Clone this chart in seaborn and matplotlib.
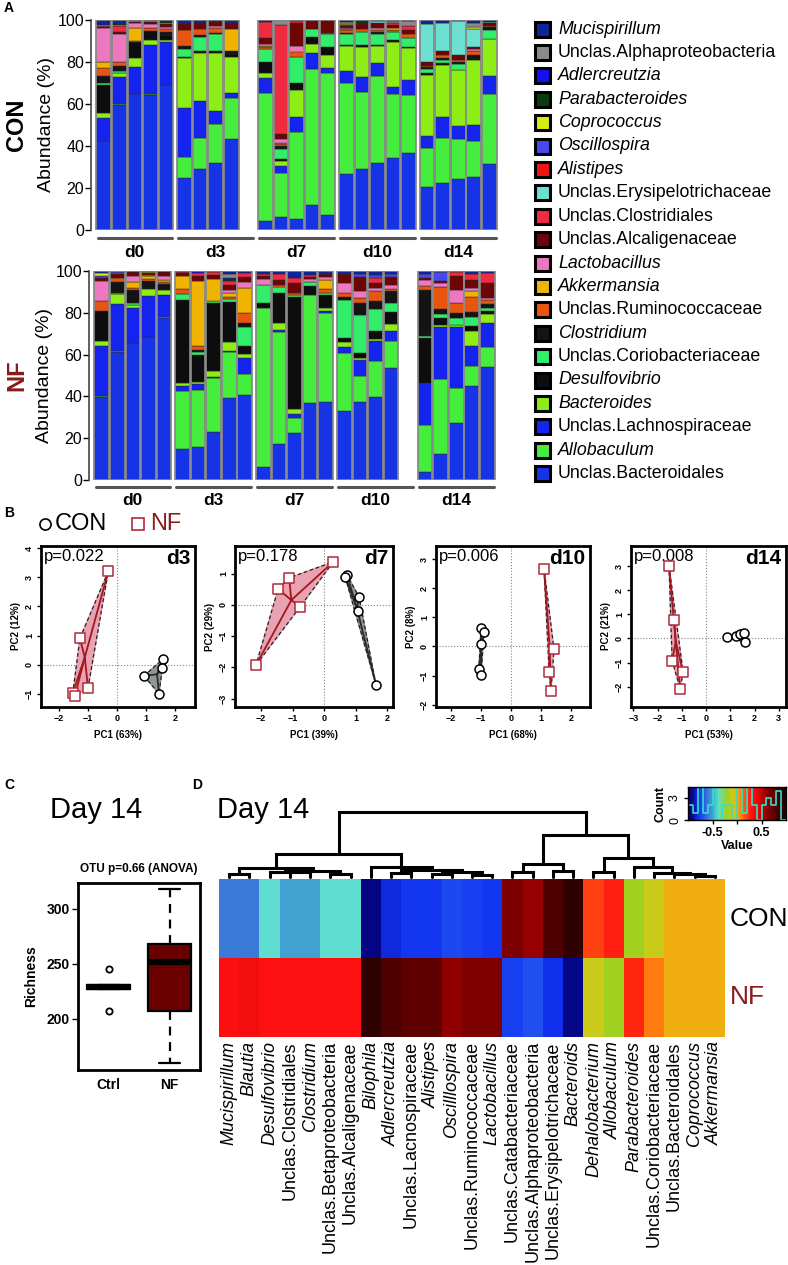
import numpy as np
import pandas as pd
import matplotlib
matplotlib.use('Agg')
import matplotlib.pyplot as plt
import seaborn as sns
from matplotlib.colors import LinearSegmentedColormap
from matplotlib.patches import Rectangle

W, H = 788, 1265

# ---------------- Panel A data (stack order: bottom first) ----------------
TAXA = ['Unclas.Bacteroidales', 'Allobaculum', 'Unclas.Lachnospiraceae', 'Bacteroides',
        'Desulfovibrio', 'Unclas.Coriobacteriaceae', 'Clostridium', 'Unclas.Ruminococcaceae',
        'Akkermansia', 'Lactobacillus', 'Unclas.Alcaligenaceae', 'Unclas.Clostridiales',
        'Unclas.Erysipelotrichaceae', 'Alistipes', 'Oscillospira', 'Coprococcus',
        'Parabacteroides', 'Adlercreutzia', 'Unclas.Alphaproteobacteria', 'Mucispirillum']
COLORS = ['#1733e6', '#45ee3c', '#1424ee', '#8cee14', '#0d0d0d', '#30ee6a', '#141414',
          '#e85510', '#f0b400', '#ee78c0', '#6e0505', '#f02a40', '#6ce0d0', '#f01414',
          '#4848ec', '#d4ee10', '#0b3a12', '#1010f0', '#8a8a8a', '#10249a']
DAYS = ['d0', 'd3', 'd7', 'd10', 'd14']

CON_D0 = [[42.5, 0, 10.6, 2.4, 13.5, 0.8, 3.5, 3.7, 3.2, 15.9, 0.5, 0.5, 0, 0, 0, 0.5, 0, 0.5, 0, 1.9],
          [59.5, 0.5, 13, 1.6, 0, 1.3, 2.4, 1.6, 0, 13.5, 0.8, 2.9, 0, 0, 0, 0.5, 0.5, 0, 0, 1.9],
          [64.6, 0, 13.2, 4, 7.9, 0, 0, 0.5, 6.2, 2, 0.8, 0, 0, 0, 0, 0.5, 0, 0, 0, 0.3],
          [64.3, 0.5, 23.5, 2.4, 4, 0, 0, 1.3, 0, 2, 1.1, 0, 0, 0, 0, 0.5, 0, 0, 0, 0.4],
          [69, 0, 20.6, 1.1, 2, 0, 1.6, 1.6, 0, 1, 1, 0, 0, 0, 0, 0.5, 1.6, 0, 0, 0]]
CON_D3 = [[24.6, 10.3, 23, 23.8, 0.8, 3.5, 1.6, 7.6, 0, 0, 2.9, 0, 0, 0, 0, 0, 0, 0, 0, 1.9],
          [28.9, 15.1, 17.6, 22.5, 1.1, 6.5, 1.1, 2.7, 0, 0, 3.2, 0, 0, 0, 0, 0, 0, 0, 0, 1.3],
          [31.7, 18.6, 6.5, 27.6, 1, 7.8, 0.5, 2.7, 0, 0.8, 2, 0, 0, 0, 0, 0, 0, 0, 0, 0.8],
          [43.2, 19.5, 2.4, 17.5, 1.3, 0, 1.4, 0, 10.3, 0, 3.2, 0, 0, 0, 0, 0, 0, 0, 0, 1.2]]
CON_D7 = [[4.4, 61, 7.1, 2.4, 5.2, 6.3, 0, 0.8, 0.6, 0.6, 3.2, 7.3, 0, 0, 0, 0, 0, 0, 0, 1.1],
          [6, 21, 3.6, 2.4, 1, 4.8, 1, 1.2, 0.6, 1.6, 2.4, 52, 0, 0, 0, 0, 0, 0, 2.4, 0],
          [5.1, 41.4, 7.5, 12.7, 3.5, 12.4, 0, 2.4, 0, 2.4, 11.1, 1, 0, 0, 0, 0, 0, 0, 0, 0.5],
          [11.9, 64.6, 7.9, 4.4, 3.2, 3.5, 0, 0, 0, 0, 4.1, 0, 0, 0, 0, 0, 0, 0, 0, 0.4],
          [7.1, 67.5, 2.4, 6.3, 4, 6, 0, 0.5, 0, 0, 6, 0, 0, 0, 0, 0, 0, 0, 0, 0.2]]
CON_D10 = [[26.7, 43.2, 5.9, 11.6, 0.8, 5.1, 0.5, 1.6, 0.3, 0.3, 1.3, 0, 0, 0, 0.5, 0.5, 0, 0, 0.8, 0.9],
           [29, 36.5, 7.5, 14.3, 1, 6, 0, 1.6, 0, 0, 2.4, 0, 0, 0, 0, 0, 1, 0, 0, 0.7],
           [31.7, 41.6, 6.3, 7.9, 0.8, 4.8, 1, 1.1, 0, 1, 2.5, 0, 0.8, 0, 0, 0, 0, 0, 0, 0.5],
           [34.1, 30.6, 3.5, 21.4, 0.8, 4, 0, 1, 0.8, 0, 1.6, 0.6, 0, 0, 0, 0, 0, 0, 1, 0.6],
           [36.5, 27.8, 7.1, 15.1, 0.8, 4.3, 0, 1.6, 0, 0, 1.9, 2.1, 0, 0, 0, 0, 0, 0, 2.1, 0.7]]
CON_D14 = [[20.3, 18.9, 5.6, 29, 0.8, 1.9, 1, 0.8, 0, 0, 1.6, 0, 18.3, 0, 0, 0, 0, 0, 0, 1.8],
           [22.5, 21.1, 10.3, 24.6, 0.8, 1.6, 1, 1.6, 0, 0, 1.6, 0, 13.5, 0, 0, 0, 0, 0, 0, 1.4],
           [24.1, 19, 6.3, 27, 0, 2.5, 1, 1, 0, 0, 2.4, 0, 16.2, 0, 0, 0, 0, 0, 0, 0.5],
           [25.1, 17.5, 7.5, 31, 0.8, 0, 1.6, 1.9, 0, 0.8, 1, 0, 8.7, 0, 0, 1, 0, 0, 1.6, 1.5],
           [31.4, 33.2, 8.7, 17.5, 0, 4.4, 1.3, 0.8, 0, 0, 1.1, 0, 0.5, 0, 0, 0, 0, 0, 0, 1.1]]

NF_D0 = [[39.6, 0.6, 23.9, 2.4, 14.4, 0, 0, 4.8, 0, 9.3, 1.6, 0, 0, 0, 1, 1.6, 0, 0, 0, 0.8],
         [61.4, 0.5, 22.3, 4.8, 0, 0.5, 5.1, 2.1, 0, 0, 1.9, 0, 0, 0, 1, 0.4, 0, 0, 0, 0],
         [65.4, 0, 17.1, 1.3, 0, 0.8, 6.4, 0.8, 2.7, 2.9, 2.1, 0, 0, 0, 0, 0, 0, 0, 0, 0.5],
         [68.6, 0, 19.5, 3.2, 0, 0, 4.1, 1, 1, 0.5, 1, 0, 0, 0, 0, 0.5, 0, 0, 0, 0.6],
         [77.4, 0.5, 10.7, 2.4, 0, 0, 2.7, 1, 1, 2.1, 1.6, 0, 0, 0, 0, 0, 0, 0, 0, 0.6]]
NF_D3 = [[14.8, 27.9, 2.4, 1.1, 39.9, 2.7, 0, 2.4, 6.4, 0, 1.3, 0.8, 0, 0, 0, 0, 0, 0, 0, 0.3],
         [15.6, 27.4, 2.9, 1.1, 12.8, 1.6, 1, 1.6, 31.1, 0, 2.4, 1.6, 0, 0, 0, 0, 0, 0.8, 0, 0.1],
         [23.1, 25.5, 0.8, 2.9, 32.2, 1.1, 0, 0, 10.8, 0, 1.9, 1, 0, 0, 0, 0, 0, 0, 0, 0.7],
         [39.1, 22, 0.8, 4.3, 19.1, 1.1, 0, 1.3, 1.9, 1.1, 2.4, 1.9, 0, 0, 0, 0, 1, 0.8, 1.6, 1.6],
         [40.7, 9.9, 7.7, 2.1, 3.8, 8.9, 1.9, 5.1, 11.6, 3.2, 2.4, 1.6, 0, 0, 0, 0, 0, 0, 0, 1.1]]
NF_D7 = [[6.4, 75.8, 0, 0, 2.4, 8.8, 0, 0, 0, 2.7, 1.6, 0.8, 0, 0, 0, 0, 0, 0, 0, 1.5],
         [17.2, 53.7, 0.8, 3.2, 14.4, 3.2, 0, 0.8, 0, 0, 2.4, 2.7, 0, 0, 0, 0, 0, 0, 0, 1.6],
         [22.6, 6.9, 2.1, 2.2, 53.6, 1.1, 0, 1, 0, 0, 4.8, 2.4, 0, 0, 0, 0, 0, 0, 0, 3.3],
         [37, 51.5, 0, 0, 4.3, 2.1, 0, 0, 0, 1.3, 1, 0.8, 0, 0, 0, 0, 0, 0, 0, 2],
         [37.5, 42.3, 1.3, 1.1, 6.4, 1, 0, 1.6, 4.3, 1.6, 1.6, 0, 0, 0, 0, 0, 0, 0, 0, 1.3]]
NF_D10 = [[33.2, 27.4, 3.2, 2.1, 1.9, 18.3, 1.6, 1.9, 0, 4.8, 4, 0, 0, 0, 0.3, 0, 0, 0, 0, 1.3],
          [37.5, 12.3, 7.7, 0.8, 2.7, 18, 5.6, 2.4, 0, 3.2, 6.9, 0, 0, 0, 1.3, 0, 0, 0, 0, 1.6],
          [39.6, 17.1, 10, 1, 3.7, 10.5, 3.8, 4.5, 0, 1.6, 2.4, 2.4, 0, 0, 1.3, 0, 0, 0, 0, 2.1],
          [53.7, 12.9, 4.8, 3.2, 5.9, 4, 5.9, 1.2, 0, 1.6, 4, 0, 0, 0, 1.4, 0, 0, 0, 0, 1.4]]
NF_D14 = [[3.7, 22.6, 20.3, 0, 21.2, 1.3, 21.9, 1.6, 0, 3.2, 1, 0, 0, 0, 1.6, 0, 0, 0, 0, 1.6],
          [12.3, 35.9, 24.9, 1.1, 3.5, 1.8, 2.2, 10.8, 0, 1.6, 1, 0, 0, 0, 4.3, 0, 0, 0, 0, 0.6],
          [27.4, 16.4, 29.2, 1.1, 0, 3.5, 2.4, 4.8, 0, 6.1, 6.6, 1.9, 0, 0, 0, 0, 0, 0, 0, 0.6],
          [45, 9.6, 9.6, 7.3, 2.4, 4, 2.7, 6.9, 2.7, 1.5, 4, 2.7, 0, 0, 0, 0, 0, 0, 0, 1.6],
          [53.9, 9.6, 11.8, 4.1, 1.4, 1.6, 1.9, 1.9, 0, 0.8, 7.2, 4.8, 0, 0, 0, 0, 0, 0, 0, 1]]

# ---------------- Panel B data (PCoA scores) ----------------
PC_TITLES = ['d3', 'd7', 'd10', 'd14']
PC_PVALS = ['p=0.022', 'p=0.178', 'p=0.006', 'p=0.008']
PC1_LABELS = ['PC1 (63%)', 'PC1 (39%)', 'PC1 (68%)', 'PC1 (53%)']
PC2_LABELS = ['PC2 (12%)', 'PC2 (29%)', 'PC2 (8%)', 'PC2 (21%)']
CON_PC1 = [[1.6, 1.55, 0.93, 1.45], [0.73, 0.67, 1.11, 1.08, 1.65],
           [-1.0, -0.9, -1.0, -1.07, -1.0], [0.85, 1.25, 1.4, 1.58, 1.6]]
CON_PC2 = [[0.2, -0.13, -0.38, -1.0], [0.96, 0.9, 0.26, -0.19, -2.56],
           [0.65, 0.48, 0.1, -0.78, -0.98], [0.07, 0.1, 0.2, 0.22, -0.15]]
NF_PC1 = [[-0.3, -1.28, -1.0, -1.52, -1.45], [0.29, -1.11, -1.46, -0.76, -2.16],
          [1.1, 1.43, 1.27, 1.33], [-1.53, -1.32, -1.4, -1.07, -0.95]]
NF_PC2 = [[3.2, 0.9, -0.8, -0.96, -1.07], [1.38, 0.87, 0.51, -0.06, -1.92],
          [2.66, -0.1, -0.88, -1.53], [3.0, 0.78, -0.92, -2.08, -1.4]]
PC_XLIM = [(-2.62, 2.69), (-2.83, 2.19), (-2.5, 2.63), (-3.1, 3.3)]
PC_YLIM = [(-1.45, 4.07), (-3.27, 1.89), (-2.08, 3.45), (-2.84, 3.83)]
PC_XTICKS = [range(-2, 3), range(-2, 3), range(-2, 3), range(-3, 4)]
PC_YTICKS = [range(-1, 5), range(-3, 2), range(-2, 4), range(-2, 4)]

# ---------------- Panel C data ----------------
CTRL_RICHNESS = [207, 227, 229, 231, 245]
NF_RICHNESS = [160, 207, 252, 268, 318]

# ---------------- Panel D data ----------------
HM_TAXA = ['Mucispirillum', 'Blautia', 'Desulfovibrio', 'Unclas.Clostridiales', 'Clostridium',
           'Unclas.Betaproteobacteria', 'Unclas.Alcaligenaceae', 'Bilophila', 'Adlercreutzia',
           'Unclas.Lacnospiraceae', 'Alistipes', 'Oscilllospira', 'Unclas.Ruminococcaceae',
           'Lactobacillus', 'Unclas.Catabacteriaceae', 'Unclas.Alphaproteobacteria',
           'Unclas.Erysipelotrichaceae', 'Bacteroids', 'Dehalobacterium', 'Allobaculum',
           'Parabacteroides', 'Unclas.Coriobacteriaceae', 'Unclas.Bacteroidales',
           'Coprococcus', 'Akkermansia']
HM_CON = [-0.6, -0.6, -0.4, -0.5, -0.5, -0.4, -0.4, -0.95, -0.82, -0.78, -0.78, -0.72, -0.75,
          -0.78, 0.65, 0.58, 0.8, 0.9, 0.2, 0.27, -0.2, -0.1, 0.0, 0.0, 0.0]
HM_NF = [0.32, 0.35, 0.3, 0.3, 0.3, 0.3, 0.3, 0.9, 0.8, 0.75, 0.75, 0.6, 0.65, 0.65, -0.75,
         -0.7, -0.8, -0.93, -0.1, -0.2, 0.25, 0.1, 0.0, 0.0, 0.0]
# dendrogram: (merge height, left, right), leaves are column indices
TREE = (1.0,
        (0.35,
         (0.14, (0.04, 0, 1), (0.09, (0.08, 2, (0.07, 3, 4)), (0.05, 5, 6))),
         (0.16, 7, (0.11, (0.06, 8, 9), (0.08, (0.05, 10, 11), (0.03, 12, 13))))),
        (0.65,
         (0.2, (0.08, 14, 15), (0.1, 16, 17)),
         (0.3, (0.08, 18, 19), (0.15, 20, (0.06, 21, (0.04, 22, (0.02, 23, 24)))))))

# ---------------- setup ----------------
sns.set_theme(style='white')
plt.rcParams['font.family'] = ['Liberation Sans', 'DejaVu Sans']
plt.rcParams['axes.edgecolor'] = 'black'
plt.rcParams['xtick.color'] = 'black'
plt.rcParams['ytick.color'] = 'black'
plt.rcParams['text.color'] = 'black'
plt.rcParams['axes.labelcolor'] = 'black'

fig = plt.figure(figsize=(W / 100, H / 100), dpi=100)
DARKRED = '#8b1a1a'


def px_axes(x0, y0, x1, y1, **kw):
    return fig.add_axes([x0 / W, 1 - y1 / H, (x1 - x0) / W, (y1 - y0) / H], **kw)


def is_genus(name):
    return not name.startswith('Unclas.')


# ---------------- Panel A ----------------
PITCH = 5.2


def draw_stacks(ax, groups, line_y, text_y):
    xs, rows = [], []
    for g, bars in enumerate(groups):
        for i, vals in enumerate(bars):
            xs.append(g * PITCH + i + 0.5)
            rows.append(vals)
    xs = np.array(xs)
    vals = np.array(rows, dtype=float)
    bottom = np.zeros(len(xs))
    for k in range(len(TAXA)):
        m = vals[:, k] > 0
        ax.bar(xs[m], vals[m, k], bottom=bottom[m], width=0.94, color=COLORS[k],
               edgecolor='#2a2a2a', linewidth=0.35)
        bottom += vals[:, k]
    ax.bar(xs, bottom, width=0.94, fill=False, edgecolor='#8c8c8c', linewidth=1.2)
    ax.set_ylim(0, 100)
    ax.set_xlim(-0.32, 4 * PITCH + 5.06)
    for s in ['top', 'right', 'bottom']:
        ax.spines[s].set_visible(False)
    ax.spines['left'].set_linewidth(1.2)
    ax.spines['left'].set_color('#444444')
    ax.set_xticks([])
    ax.set_yticks(range(0, 101, 20))
    ax.tick_params(axis='y', length=4, width=1, labelsize=11.5, pad=1, left=True)
    for g, day in enumerate(DAYS):
        ax.plot([g * PITCH + 0.1, g * PITCH + 4.9], [line_y, line_y], color='#555555', lw=2.2,
                clip_on=False)
        ax.text(g * PITCH + 2.5, text_y, day, ha='center', va='center', fontsize=12.5,
                fontweight='bold', clip_on=False)
    ax.set_ylabel('Abundance (%)', fontsize=14, labelpad=2)


ax_con = px_axes(91, 20, 498, 230)
draw_stacks(ax_con, [CON_D0, CON_D3, CON_D7, CON_D10, CON_D14], -3.8, -10.5)
ax_nf = px_axes(89, 271, 496, 480)
draw_stacks(ax_nf, [NF_D0, NF_D3, NF_D7, NF_D10, NF_D14], -3.4, -9.6)

# legend of taxa (top = last of stack)
ax_leg = px_axes(525, 0, 788, 490)
ax_leg.set_xlim(0, 263)
ax_leg.set_ylim(490, 0)
ax_leg.axis('off')
for j, k in enumerate(range(len(TAXA) - 1, -1, -1)):
    yc = 29 + j * 23.4
    ax_leg.add_patch(Rectangle((10, yc - 7.5), 15, 15, facecolor=COLORS[k],
                               edgecolor='black', linewidth=2.2))
    ax_leg.text(33, yc, TAXA[k], fontsize=12.8, va='center', ha='left',
                style='italic' if is_genus(TAXA[k]) else 'normal')


# ---------------- Panel B ----------------
def convex_hull(xs, ys):
    pts = sorted(set(zip(xs, ys)))

    def cross(o, a, b):
        return (a[0] - o[0]) * (b[1] - o[1]) - (a[1] - o[1]) * (b[0] - o[0])
    lower, upper = [], []
    for p in pts:
        while len(lower) >= 2 and cross(lower[-2], lower[-1], p) <= 0:
            lower.pop()
        lower.append(p)
    for p in reversed(pts):
        while len(upper) >= 2 and cross(upper[-2], upper[-1], p) <= 0:
            upper.pop()
        upper.append(p)
    return lower[:-1] + upper[:-1]


def draw_group(ax, xs, ys, fill, line, marker, edge):
    hull = convex_hull(xs, ys)
    hx = [p[0] for p in hull] + [hull[0][0]]
    hy = [p[1] for p in hull] + [hull[0][1]]
    ax.fill(hx, hy, color=fill, zorder=1)
    ax.plot(hx, hy, color='#222222', lw=0.9, ls=(0, (3, 2)), zorder=2)
    cx, cy = np.mean(xs), np.mean(ys)
    for x, y in zip(xs, ys):
        ax.plot([cx, x], [cy, y], color=line, lw=1.3, zorder=3)
    sns.scatterplot(x=xs, y=ys, marker=marker, s=42, color='white', edgecolor=edge,
                    linewidth=1.1, ax=ax, zorder=4, legend=False)


PC_BOXES = [(41, 195), (235, 393), (436, 590), (631, 786)]
for n, (x0, x1) in enumerate(PC_BOXES):
    ax = px_axes(x0, 546, x1, 707)
    ax.axhline(0, color='#7a8a8a', lw=0.8, ls=':', zorder=0)
    ax.axvline(0, color='#7a8a8a', lw=0.8, ls=':', zorder=0)
    draw_group(ax, NF_PC1[n], NF_PC2[n], '#e8a2b2', '#a3161c', 's', '#b02a3a')
    draw_group(ax, CON_PC1[n], CON_PC2[n], '#8f9794', '#2a2a2a', 'o', 'black')
    ax.set_xlim(*PC_XLIM[n])
    ax.set_ylim(*PC_YLIM[n])
    ax.set_xticks(list(PC_XTICKS[n]))
    ax.set_yticks(list(PC_YTICKS[n]))
    ax.tick_params(labelsize=6.5, length=3, width=1, left=True, bottom=True, pad=2)
    for lab in ax.get_xticklabels() + ax.get_yticklabels():
        lab.set_fontweight('bold')
    for lab in ax.get_yticklabels():
        lab.set_rotation(90)
        lab.set_va('center')
    for s in ax.spines.values():
        s.set_linewidth(2)
    ax.set_xlabel(PC1_LABELS[n], fontsize=7, fontweight='bold', labelpad=5)
    ax.set_ylabel(PC2_LABELS[n], fontsize=7, fontweight='bold', labelpad=3)
    ax.text(0.02, 0.98, PC_PVALS[n], transform=ax.transAxes, ha='left', va='top', fontsize=12)
    ax.text(0.97, 0.98, PC_TITLES[n], transform=ax.transAxes, ha='right', va='top',
            fontsize=15, fontweight='bold')

# ---------------- Panel C ----------------
axc = px_axes(78, 883, 200, 1070)
rich = pd.DataFrame({'group': ['Ctrl'] * len(CTRL_RICHNESS) + ['NF'] * len(NF_RICHNESS),
                     'richness': CTRL_RICHNESS + NF_RICHNESS})
sns.boxplot(data=rich, x='group', y='richness', hue='group',
            palette={'Ctrl': '#111111', 'NF': '#6b0000'}, saturation=1, width=0.72,
            linecolor='black', linewidth=1.6, legend=False, ax=axc,
            medianprops=dict(linewidth=4.5, color='black'),
            whiskerprops=dict(linestyle=(0, (4, 3))),
            flierprops=dict(marker='o', markerfacecolor='none', markeredgecolor='black',
                            markersize=4.5, markeredgewidth=1.3))
axc.set_ylim(153.6, 323.6)
axc.set_xlim(-0.5, 1.5)
axc.set_yticks([200, 250, 300])
axc.tick_params(labelsize=10, length=4, width=1, left=True, bottom=False, pad=2)
for lab in axc.get_xticklabels() + axc.get_yticklabels():
    lab.set_fontweight('bold')
for s in axc.spines.values():
    s.set_linewidth(2)
axc.set_xlabel('')
axc.set_ylabel('Richness', fontsize=10, fontweight='bold', labelpad=6)
axc.set_title('OTU p=0.66 (ANOVA)', fontsize=8.5, fontweight='bold', pad=8)

# ---------------- Panel D ----------------
cmap = LinearSegmentedColormap.from_list('key', [
    (0.0, '#00007a'), (0.05, '#0a0a90'), (0.1, '#1030f0'), (0.15, '#2050f0'),
    (0.2, '#3a7ad8'), (0.25, '#40a0d0'), (0.3, '#60e0d0'), (0.4, '#a0d020'),
    (0.45, '#c8cc18'), (0.5, '#f0b010'), (0.55, '#ff7a10'), (0.6, '#ff4010'),
    (0.65, '#ff1010'), (0.72, '#e00808'), (0.8, '#900000'), (0.85, '#700000'),
    (0.9, '#500000'), (0.95, '#300000'), (1.0, '#200000')])

hm = pd.DataFrame([HM_CON, HM_NF], index=['CON', 'NF'], columns=HM_TAXA)
axd = px_axes(219, 879, 725, 1037)
sns.heatmap(hm, cmap=cmap, vmin=-1, vmax=1, cbar=False, ax=axd, xticklabels=True,
            yticklabels=False)
axd.set_xticks(np.arange(len(HM_TAXA)) + 0.5)
axd.set_xticklabels(HM_TAXA, rotation=90, fontsize=13)
for lab in axd.get_xticklabels():
    if is_genus(lab.get_text()):
        lab.set_fontstyle('italic')
axd.tick_params(axis='x', length=0, pad=3)
axd.set_xlabel('')
axd.set_ylabel('')
axd.text(25.25, 0.5, 'CON', fontsize=19, va='center', ha='left', clip_on=False)
axd.text(25.25, 1.5, 'NF', fontsize=19, va='center', ha='left', color=DARKRED, clip_on=False)

# dendrogram
axt = px_axes(219, 812, 725, 877)
axt.set_xlim(0, len(HM_TAXA))
axt.set_ylim(0, 1.0)
axt.axis('off')


def draw_node(node):
    if isinstance(node, int):
        return node + 0.5, 0.0
    h, a, b = node
    xa, ha = draw_node(a)
    xb, hb = draw_node(b)
    axt.plot([xa, xa, xb, xb], [ha, h, h, hb], color='black', lw=2.2, clip_on=False,
             solid_joinstyle='miter')
    return (xa + xb) / 2, h


draw_node(TREE)

# color key with histogram
axk = px_axes(688, 787, 786, 820)
axk.imshow(np.linspace(-1, 1, 256)[None, :], cmap=cmap, aspect='auto',
           extent=(-1, 1, 0, 4.5), vmin=-1, vmax=1)
sns.histplot(x=HM_CON + HM_NF, bins=np.linspace(-1, 1, 21), element='step', fill=False,
             color='#30e0c8', linewidth=1.2, ax=axk)
axk.set_xlim(-1, 1)
axk.set_ylim(0, 4.5)
axk.set_xticks([-0.5, 0, 0.5])
axk.set_xticklabels(['-0.5', '', '0.5'])
axk.set_yticks([0, 3])
axk.tick_params(labelsize=9, length=3, width=1, left=True, bottom=True, pad=2)
for lab in axk.get_xticklabels():
    lab.set_fontweight('bold')
for lab in axk.get_yticklabels():
    lab.set_rotation(90)
    lab.set_va('center')
axk.set_xlabel('Value', fontsize=9, fontweight='bold', labelpad=1)
axk.set_ylabel('Count', fontsize=9, fontweight='bold', labelpad=2)
for s in axk.spines.values():
    s.set_linewidth(1)

# ---------------- overlay texts ----------------
ov = fig.add_axes([0, 0, 1, 1], zorder=10)
ov.set_xlim(0, W)
ov.set_ylim(H, 0)
ov.axis('off')
ov.patch.set_alpha(0)
ov.text(4, 8, 'A', fontsize=10, fontweight='bold', va='center')
ov.text(4, 513, 'B', fontsize=10, fontweight='bold', va='center')
ov.text(4, 785, 'C', fontsize=10, fontweight='bold', va='center')
ov.text(192, 785, 'D', fontsize=10, fontweight='bold', va='center')
ov.text(17, 125, 'CON', fontsize=17, fontweight='bold', rotation=90, ha='center', va='center')
ov.text(17, 375, 'NF', fontsize=17, fontweight='bold', rotation=90, ha='center', va='center',
        color=DARKRED)
ov.plot([45], [524], marker='o', ms=8, mfc='white', mec='black', mew=1.2)
ov.text(55, 524, 'CON', fontsize=17, va='center', ha='left')
ov.plot([138], [524], marker='s', ms=8, mfc='white', mec='#b02a3a', mew=1.2)
ov.text(150, 524, 'NF', fontsize=17, va='center', ha='left', color=DARKRED)
ov.text(96, 810, 'Day 14', fontsize=21, va='center', ha='center')
ov.text(217, 810, 'Day 14', fontsize=21, va='center', ha='left')

fig.savefig('out.png', dpi=100)
